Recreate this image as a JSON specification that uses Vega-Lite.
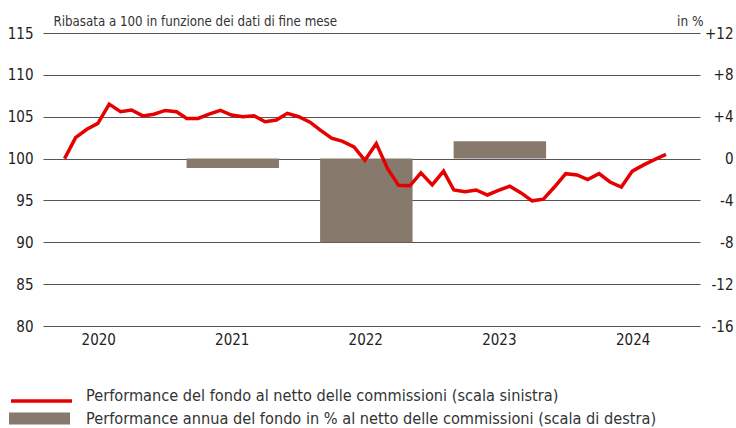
{
  "$schema": "https://vega.github.io/schema/vega-lite/v6.json",
  "autosize": {"type": "none"},
  "width": 657,
  "height": 293,
  "padding": {"left": 43, "top": 33, "right": 36, "bottom": 102},
  "background": "white",
  "config": {
    "view": {"stroke": null},
    "font": "Liberation Sans Narrow, DejaVu Sans Condensed, Liberation Sans, sans-serif",
    "axis": {"labelFont": "Liberation Sans Narrow, DejaVu Sans Condensed, Liberation Sans, sans-serif", "titleFont": "Liberation Sans Narrow, DejaVu Sans Condensed, Liberation Sans, sans-serif"},
    "legend": {"labelFont": "Liberation Sans Narrow, DejaVu Sans Condensed, Liberation Sans, sans-serif"}
  },
  "datasets": {
    "fund": [
      {"date": "2020-03-31", "value": 100.0},
      {"date": "2020-04-30", "value": 102.5},
      {"date": "2020-05-31", "value": 103.5},
      {"date": "2020-06-30", "value": 104.2},
      {"date": "2020-07-31", "value": 106.5},
      {"date": "2020-08-31", "value": 105.6},
      {"date": "2020-09-30", "value": 105.8},
      {"date": "2020-10-31", "value": 105.1},
      {"date": "2020-11-30", "value": 105.3},
      {"date": "2020-12-31", "value": 105.75},
      {"date": "2021-01-31", "value": 105.6},
      {"date": "2021-02-28", "value": 104.8},
      {"date": "2021-03-31", "value": 104.8},
      {"date": "2021-04-30", "value": 105.3},
      {"date": "2021-05-31", "value": 105.75},
      {"date": "2021-06-30", "value": 105.2},
      {"date": "2021-07-31", "value": 105.0},
      {"date": "2021-08-31", "value": 105.1},
      {"date": "2021-09-30", "value": 104.4},
      {"date": "2021-10-31", "value": 104.6},
      {"date": "2021-11-30", "value": 105.4},
      {"date": "2021-12-31", "value": 105.0},
      {"date": "2022-01-31", "value": 104.35},
      {"date": "2022-02-28", "value": 103.4},
      {"date": "2022-03-31", "value": 102.45},
      {"date": "2022-04-30", "value": 102.05},
      {"date": "2022-05-31", "value": 101.4},
      {"date": "2022-06-30", "value": 99.8},
      {"date": "2022-07-31", "value": 101.8},
      {"date": "2022-08-31", "value": 98.8},
      {"date": "2022-09-30", "value": 96.8},
      {"date": "2022-10-31", "value": 96.75},
      {"date": "2022-11-30", "value": 98.3},
      {"date": "2022-12-31", "value": 96.85},
      {"date": "2023-01-31", "value": 98.5},
      {"date": "2023-02-28", "value": 96.25},
      {"date": "2023-03-31", "value": 96.05},
      {"date": "2023-04-30", "value": 96.25},
      {"date": "2023-05-31", "value": 95.65},
      {"date": "2023-06-30", "value": 96.2},
      {"date": "2023-07-31", "value": 96.7},
      {"date": "2023-08-31", "value": 95.9},
      {"date": "2023-09-30", "value": 94.95},
      {"date": "2023-10-31", "value": 95.15},
      {"date": "2023-11-30", "value": 96.6},
      {"date": "2023-12-31", "value": 98.2},
      {"date": "2024-01-31", "value": 98.05},
      {"date": "2024-02-29", "value": 97.5},
      {"date": "2024-03-31", "value": 98.2},
      {"date": "2024-04-30", "value": 97.2},
      {"date": "2024-05-31", "value": 96.6},
      {"date": "2024-06-30", "value": 98.5},
      {"date": "2024-07-31", "value": 99.25},
      {"date": "2024-08-31", "value": 99.9},
      {"date": "2024-09-30", "value": 100.5}
    ],
    "annual": [
      {"date": "2021-01-01", "perf": -0.9},
      {"date": "2022-01-01", "perf": -8.0},
      {"date": "2023-01-01", "perf": 1.65}
    ]
  },
  "layer": [
    {
      "data": {"name": "annual"},
      "mark": {"type": "bar", "width": {"band": 0.7}},
      "encoding": {
        "x": {
          "field": "date", "timeUnit": "year", "type": "temporal",
          "scale": {"domain": [{"year": 2020, "month": 2, "date": 1}, {"year": 2025, "month": 1, "date": 1}]},
          "axis": {
            "title": null, "values": [{"year": 2020, "month": 7, "date": 1}, {"year": 2021, "month": 7, "date": 1}, {"year": 2022, "month": 7, "date": 1}, {"year": 2023, "month": 7, "date": 1}, {"year": 2024, "month": 7, "date": 1}],
            "format": "%Y", "grid": false, "ticks": false, "tickSize": 0, "domain": false,
            "labelPadding": 6, "labelFontSize": 15, "labelColor": "#222", "labelFontWeight": "normal"
          }
        },
        "y": {
          "field": "perf", "type": "quantitative",
          "scale": {"domain": [-16, 12], "nice": false, "zero": false},
          "axis": {
            "orient": "right", "values": [-16, -12, -8, -4, 0, 4, 8, 12],
            "labelExpr": "datum.value > 0 ? '+' + datum.value : '' + datum.value",
            "grid": false, "ticks": false, "tickSize": 0, "domain": false,
            "labelAlign": "right", "labelPadding": 33, "labelFontSize": 15, "labelColor": "#222",
            "title": "in %", "titleAngle": 0, "titleAlign": "right", "titleBaseline": "alphabetic",
            "titleX": 3, "titleY": -8, "titleFontSize": 13.5, "titleFontWeight": "normal", "titleColor": "#333"
          }
        },
        "fill": {
          "datum": "Performance annua del fondo in % al netto delle commissioni (scala di destra)",
          "type": "nominal",
          "scale": {"domain": ["Performance annua del fondo in % al netto delle commissioni (scala di destra)"], "range": ["#877a6c"]},
          "legend": {
            "title": null, "orient": "none", "legendX": -34, "legendY": 355,
            "symbolType": "M-1,-0.2H1V0.2H-1Z", "symbolSize": 3721, "symbolStrokeWidth": 0,
            "symbolOpacity": 1, "labelOffset": 16, "labelFontSize": 16.2, "labelColor": "#333",
            "labelBaseline": "middle", "labelLimit": 800
          }
        }
      }
    },
    {
      "data": {"name": "fund"},
      "mark": {"type": "line", "strokeWidth": 3.5, "strokeJoin": "miter"},
      "encoding": {
        "x": {"field": "date", "type": "temporal"},
        "y": {
          "field": "value", "type": "quantitative",
          "scale": {"domain": [80, 115], "nice": false, "zero": false},
          "axis": {
            "orient": "left", "values": [80, 85, 90, 95, 100, 105, 110, 115],
            "grid": true, "gridColor": "#555", "gridWidth": 1.2, "gridOpacity": 1,
            "ticks": false, "tickSize": 0, "domain": false,
            "labelPadding": 10, "labelFontSize": 15, "labelColor": "#222",
            "title": "Ribasata a 100 in funzione dei dati di fine mese", "titleAngle": 0, "titleAlign": "left",
            "titleBaseline": "alphabetic", "titleX": 10, "titleY": -7.5, "titleFontSize": 13.2,
            "titleFontWeight": "normal", "titleColor": "#333"
          }
        },
        "stroke": {
          "datum": "Performance del fondo al netto delle commissioni (scala sinistra)",
          "type": "nominal",
          "scale": {"domain": ["Performance del fondo al netto delle commissioni (scala sinistra)"], "range": ["#e60000"]},
          "legend": {
            "title": null, "orient": "none", "legendX": -34, "legendY": 335.5,
            "symbolType": "stroke", "symbolSize": 3721, "symbolStrokeWidth": 3.5,
            "labelOffset": 12, "labelFontSize": 16.2, "labelColor": "#333",
            "labelBaseline": "alphabetic", "labelLimit": 800
          }
        }
      }
    }
  ],
  "resolve": {"scale": {"y": "independent"}}
}
